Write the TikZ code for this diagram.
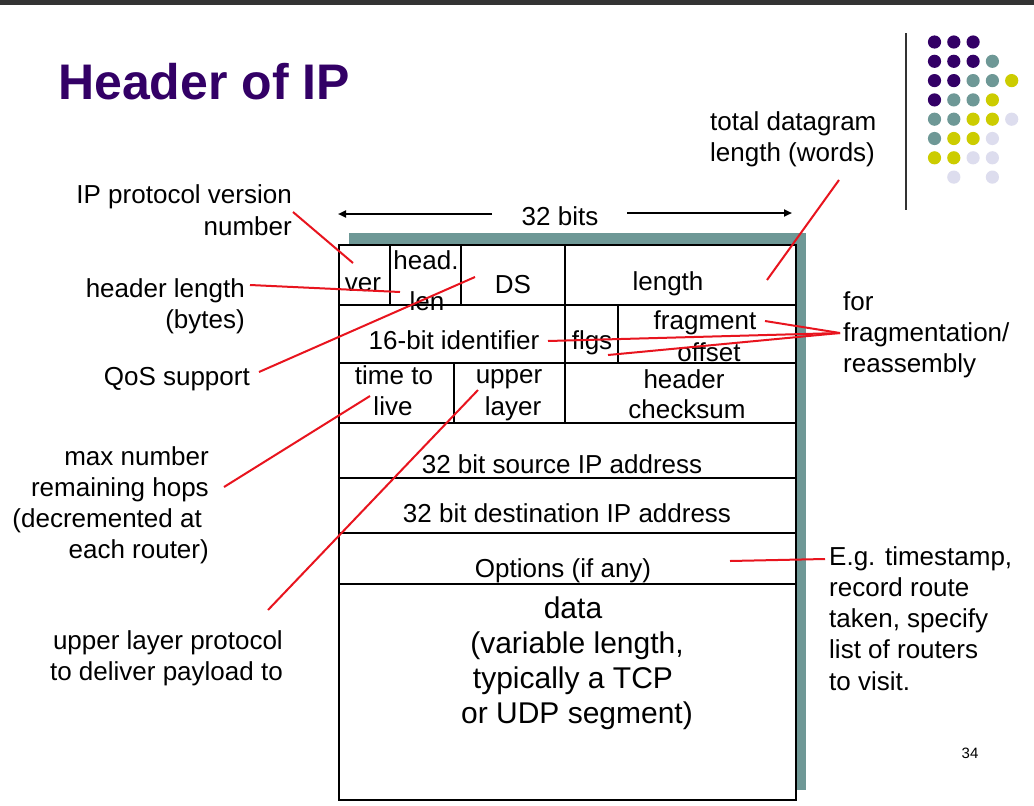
\documentclass[tikz,border=0pt]{standalone}
\usepackage{fontspec}
\setmainfont{Liberation Sans}
\usetikzlibrary{arrows.meta}
\definecolor{titlepurple}{HTML}{330066}
\definecolor{shadowteal}{HTML}{6E9896}
\definecolor{dotteal}{HTML}{6E9896}
\definecolor{dotyellow}{HTML}{CCCC00}
\definecolor{dotlilac}{HTML}{DDDDEE}
\definecolor{callred}{HTML}{E8141E}
\definecolor{topbar}{HTML}{333333}
\begin{document}
\begin{tikzpicture}[x=1pt,y=-1pt,
  lbl/.style={font=\fontsize{26}{31}\selectfont, inner sep=0pt},
  lblR/.style={lbl, anchor=base east},
  lblL/.style={lbl, anchor=base west},
  field/.style={lbl, anchor=base},
  datatext/.style={font=\fontsize{30}{36}\selectfont, inner sep=0pt, anchor=base},
  callout/.style={draw=callred, line width=2pt},
  cell/.style={draw=black, line width=2.6pt},
  span/.style={draw=black, line width=2pt, -{Triangle[length=8pt,width=7pt]}}
]
\useasboundingbox (0,0) rectangle (1034,806);
\fill[white] (0,0) rectangle (1034,806);
\fill[topbar] (0,0) rectangle (1034,4.5);

% title
\node[anchor=base west, inner sep=0pt, text=titlepurple,
      font=\fontsize{50}{60}\selectfont\bfseries] (title) at (58,99) {Header of IP};

% decorative dot grid and divider
\draw[black!80, line width=1.5pt] (906,33) -- (906,210);
\foreach \c/\r/\col in {
  0/0/titlepurple,1/0/titlepurple,2/0/titlepurple,
  0/1/titlepurple,1/1/titlepurple,2/1/titlepurple,3/1/dotteal,
  0/2/titlepurple,1/2/titlepurple,2/2/dotteal,3/2/dotteal,4/2/dotyellow,
  0/3/titlepurple,1/3/dotteal,2/3/dotteal,3/3/dotyellow,
  0/4/dotteal,1/4/dotteal,2/4/dotyellow,3/4/dotyellow,4/4/dotlilac,
  0/5/dotteal,1/5/dotyellow,2/5/dotyellow,3/5/dotlilac,
  0/6/dotyellow,1/6/dotyellow,2/6/dotlilac,3/6/dotlilac,
  1/7/dotlilac,3/7/dotlilac}
  \fill[\col] (934.5+19.3*\c, 42+19.3*\r) circle (6.6pt);

% datagram box with shadow
\fill[shadowteal] (349,233) rectangle (806,790);
\fill[white] (339,245) rectangle (796,800);
\draw[cell] (339,245) rectangle (796,800);
\foreach \yy in {305,363,423,478,533,584}
  \draw[cell] (339,\yy) -- (796,\yy);
\draw[cell] (390,245) -- (390,305);
\draw[cell] (461,245) -- (461,305);
\draw[cell] (565,245) -- (565,423);
\draw[cell] (618,305) -- (618,363);
\draw[cell] (454,363) -- (454,423);

% 32 bits span
\node[lbl, anchor=base] (bits) at (560,225) {32 bits};
\coordinate (bitsLa) at (492,214);
\coordinate (bitsLb) at (338,214);
\coordinate (bitsRa) at (627,213);
\coordinate (bitsRb) at (792,213);
\draw[span] (bitsLa) -- (bitsLb);
\draw[span] (bitsRa) -- (bitsRb);

% header fields
\node[field] (ver) at (363,291) {ver};
\node[field] (head) at (426,269) {head.};
\node[field] (len) at (427,310) {len};
\node[field] (ds) at (513,293) {DS};
\node[field] (length) at (668,290) {length};
\node[field] (ident) at (454,349) {16-bit identifier};
\node[field] (flgs) at (592,349) {flgs};
\node[field] (frag) at (705,329) {fragment};
\node[field] (offset) at (709,361) {offset};
\node[field] (ttlA) at (394,384) {time to};
\node[field] (ttlB) at (393,415) {live};
\node[field] (upA) at (509,383) {upper};
\node[field] (upB) at (513,415) {layer};
\node[field] (hcA) at (684,388) {header};
\node[field] (hcB) at (687,418) {checksum};
\node[field] (src) at (562,473) {32 bit source IP address};
\node[field] (dst) at (567,522) {32 bit destination IP address};
\node[field] (opts) at (563,577) {Options (if any)};
\node[datatext] (dataA) at (573,618) {data};
\node[datatext] (dataB) at (577,653) {(variable length,};
\node[datatext] (dataC) at (573,688) {typically a TCP};
\node[datatext] (dataD) at (577,723) {or UDP segment)};

% left-hand annotations
\node[lblR] (ipvA) at (292,203) {IP protocol version};
\node[lblR] (ipvB) at (292,235) {number};
\node[lblR] (hlA) at (245,297) {header length};
\node[lblR] (hlB) at (245,328) {(bytes)};
\node[lblR] (qos) at (250,385) {QoS support};
\node[lblR] (hopA) at (209,465) {max number};
\node[lblR] (hopB) at (209,496) {remaining hops};
\node[lblR] (hopC) at (202,527) {(decremented at};
\node[lblR] (hopD) at (209,558) {each router)};
\node[lblR] (ulA) at (283,649) {upper layer protocol};
\node[lblR] (ulB) at (283,680) {to deliver payload to};

% right-hand annotations
\node[lblL] (totA) at (710,130) {total datagram};
\node[lblL] (totB) at (710,161) {length (words)};
\node[lblL] (frA) at (843,310) {for};
\node[lblL] (frB) at (843,341) {fragmentation/};
\node[lblL] (frC) at (843,372) {reassembly};
\node[lblL] (egA) at (829,565) {E.g. timestamp,};
\node[lblL] (egB) at (829,596) {record route};
\node[lblL] (egC) at (829,627) {taken, specify};
\node[lblL] (egD) at (829,658) {list of routers};
\node[lblL] (egE) at (829,690) {to visit.};

\node[anchor=base, inner sep=0pt, font=\fontsize{15}{18}\selectfont] (page) at (970,758) {34};

% callout line ends
\coordinate (cIpv) at (293,212);   \coordinate (tVer) at (353,263);
\coordinate (cHl) at (250,285);    \coordinate (tHl) at (400,292);
\coordinate (cQos) at (259,372);   \coordinate (tDs) at (475,277);
\coordinate (cHop) at (224,487);   \coordinate (tTtl) at (370,396);
\coordinate (cUl) at (268,610);    \coordinate (tUp) at (478,390);
\coordinate (cTot) at (839,180);   \coordinate (tLen) at (767,280);
\coordinate (cFr) at (840,333);
\coordinate (tFrag) at (765,321);
\coordinate (tIdent) at (548,341);
\coordinate (tFlgs) at (608,355);
\coordinate (cEg) at (825,559);    \coordinate (tOpt) at (730,561);

% callout lines
\draw[callout] (cIpv) -- (tVer);
\draw[callout] (cHl) -- (tHl);
\draw[callout] (cQos) -- (tDs);
\draw[callout] (cHop) -- (tTtl);
\draw[callout] (cUl) -- (tUp);
\draw[callout] (cTot) -- (tLen);
\draw[callout] (cFr) -- (tFrag);
\draw[callout] (cFr) -- (tIdent);
\draw[callout] (cFr) -- (tFlgs);
\draw[callout] (cEg) -- (tOpt);
\end{tikzpicture}
\end{document}
